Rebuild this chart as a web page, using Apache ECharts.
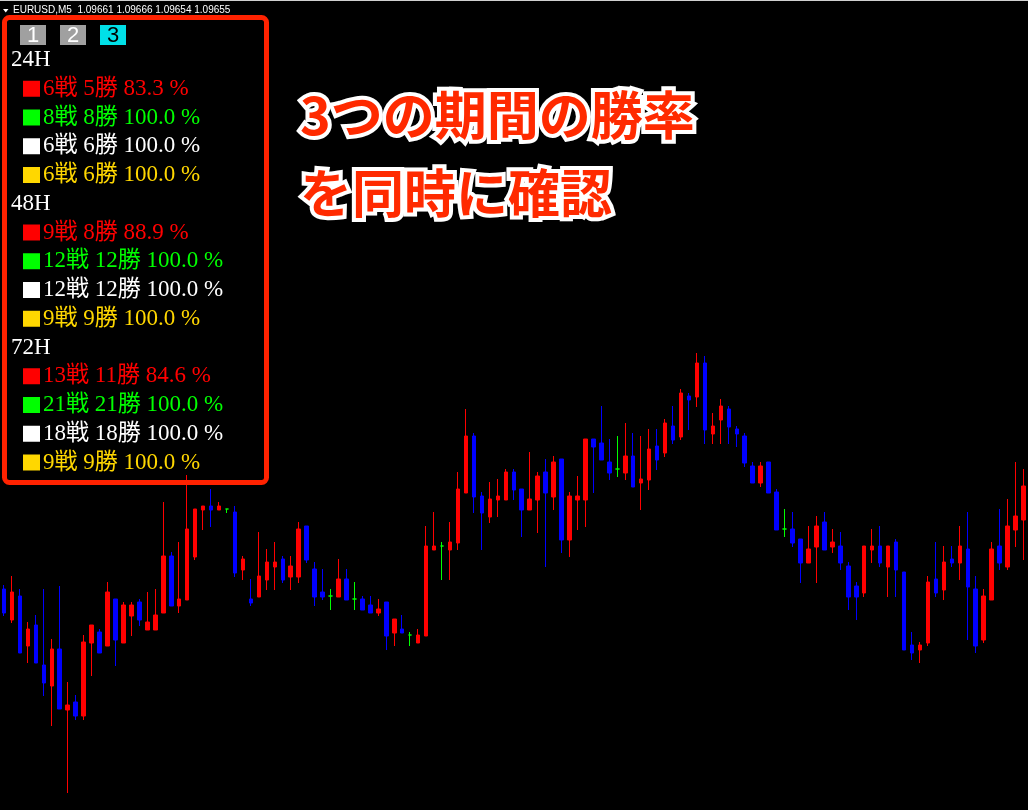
<!DOCTYPE html>
<html><head><meta charset="utf-8">
<script src="https://cdn.jsdelivr.net/npm/echarts@6/dist/echarts.min.js"></script>
<style>html,body{margin:0;padding:0;background:#000;overflow:hidden}#c{width:1028px;height:810px}</style>
</head><body><div id="c"></div>
<script>
// ---- data (EURUSD M5 candles, left to right) ----
const opens = [
1.09561,1.09530,1.09554,1.09504,1.09525,1.09485,1.09464,1.09501,1.09440,1.09448,
1.09434,1.09507,1.09518,1.09504,1.09551,1.09507,1.09534,1.09548,1.09520,1.09520,
1.09537,1.09594,1.09544,1.09550,1.09593,1.09640,1.09644,1.09640,1.09641,1.09638,
1.09580,1.09551,1.09553,1.09570,1.09583,1.09591,1.09573,1.09573,1.09624,1.09581,
1.09558,1.09554,1.09553,1.09571,1.09551,1.09551,1.09545,1.09537,1.09548,1.09517,
1.09521,1.09515,1.09507,1.09514,1.09600,1.09604,1.09600,1.09607,1.09657,1.09714,
1.09654,1.09633,1.09650,1.09650,1.09678,1.09661,1.09640,1.09650,1.09678,1.09653,
1.09691,1.09610,1.09650,1.09650,1.09711,1.09707,1.09688,1.09681,1.09677,1.09694,
1.09667,1.09670,1.09704,1.09697,1.09724,1.09713,1.09754,1.09753,1.09787,1.09716,
1.09730,1.09741,1.09721,1.09714,1.09684,1.09667,1.09688,1.09658,1.09621,1.09621,
1.09611,1.09587,1.09603,1.09628,1.09603,1.09604,1.09584,1.09564,1.09557,1.09600,
1.09604,1.09583,1.09608,1.09578,1.09505,1.09500,1.09507,1.09571,1.09560,1.09591,
1.09587,1.09601,1.09561,1.09510,1.09550,1.09604,1.09583,1.09620,1.09630];
const closes = [
1.09537,1.09558,1.09497,1.09521,1.09487,1.09467,1.09501,1.09441,1.09445,1.09434,
1.09508,1.09525,1.09497,1.09558,1.09510,1.09545,1.09545,1.09530,1.09528,1.09535,
1.09594,1.09544,1.09551,1.09621,1.09641,1.09644,1.09640,1.09644,1.09641,1.09577,
1.09591,1.09547,1.09574,1.09588,1.09588,1.09570,1.09584,1.09621,1.09590,1.09553,
1.09553,1.09554,1.09571,1.09550,1.09551,1.09540,1.09537,1.09541,1.09514,1.09531,
1.09517,1.09515,1.09515,1.09604,1.09604,1.09604,1.09608,1.09661,1.09714,1.09653,
1.09637,1.09651,1.09654,1.09678,1.09660,1.09640,1.09651,1.09674,1.09657,1.09688,
1.09610,1.09654,1.09654,1.09711,1.09703,1.09690,1.09677,1.09681,1.09694,1.09663,
1.09671,1.09701,1.09690,1.09727,1.09710,1.09757,1.09750,1.09787,1.09720,1.09724,
1.09744,1.09723,1.09716,1.09687,1.09667,1.09684,1.09657,1.09620,1.09621,1.09607,
1.09587,1.09601,1.09624,1.09600,1.09608,1.09587,1.09553,1.09553,1.09604,1.09604,
1.09587,1.09604,1.09580,1.09500,1.09497,1.09505,1.09568,1.09557,1.09588,1.09587,
1.09604,1.09563,1.09504,1.09554,1.09601,1.09587,1.09624,1.09634,1.09664];
const lows = [
1.09534,1.09527,1.09497,1.09487,1.09487,1.09454,1.09424,1.09441,1.09357,1.09430,
1.09430,1.09474,1.09497,1.09504,1.09484,1.09507,1.09514,1.09524,1.09520,1.09520,
1.09537,1.09544,1.09537,1.09550,1.09590,1.09620,1.09623,1.09640,1.09637,1.09573,
1.09570,1.09544,1.09553,1.09560,1.09560,1.09567,1.09560,1.09567,1.09587,1.09544,
1.09550,1.09540,1.09553,1.09550,1.09540,1.09540,1.09537,1.09534,1.09500,1.09504,
1.09517,1.09504,1.09507,1.09514,1.09600,1.09570,1.09570,1.09600,1.09657,1.09637,
1.09600,1.09627,1.09633,1.09650,1.09650,1.09613,1.09640,1.09617,1.09583,1.09640,
1.09597,1.09593,1.09620,1.09623,1.09657,1.09690,1.09670,1.09673,1.09670,1.09663,
1.09640,1.09660,1.09680,1.09693,1.09706,1.09710,1.09720,1.09743,1.09706,1.09706,
1.09706,1.09706,1.09703,1.09683,1.09667,1.09663,1.09657,1.09620,1.09613,1.09603,
1.09567,1.09587,1.09567,1.09600,1.09597,1.09580,1.09540,1.09530,1.09553,1.09587,
1.09583,1.09553,1.09553,1.09500,1.09490,1.09487,1.09504,1.09553,1.09550,1.09583,
1.09570,1.09510,1.09497,1.09507,1.09550,1.09580,1.09580,1.09603,1.09590];
const highs = [
1.09565,1.09574,1.09561,1.09528,1.09535,1.09561,1.09511,1.09564,1.09468,1.09455,
1.09515,1.09525,1.09521,1.09568,1.09551,1.09548,1.09548,1.09551,1.09558,1.09561,
1.09648,1.09598,1.09608,1.09675,1.09641,1.09644,1.09661,1.09648,1.09641,1.09644,
1.09594,1.09571,1.09618,1.09601,1.09608,1.09594,1.09594,1.09628,1.09624,1.09588,
1.09581,1.09561,1.09591,1.09581,1.09568,1.09554,1.09554,1.09551,1.09548,1.09531,
1.09535,1.09518,1.09521,1.09624,1.09638,1.09608,1.09628,1.09678,1.09741,1.09717,
1.09658,1.09668,1.09671,1.09681,1.09681,1.09661,1.09698,1.09678,1.09691,1.09694,
1.09691,1.09658,1.09674,1.09711,1.09711,1.09744,1.09711,1.09714,1.09727,1.09717,
1.09714,1.09721,1.09721,1.09731,1.09744,1.09761,1.09757,1.09797,1.09794,1.09737,
1.09751,1.09744,1.09724,1.09717,1.09688,1.09688,1.09688,1.09661,1.09641,1.09638,
1.09611,1.09624,1.09634,1.09638,1.09621,1.09618,1.09588,1.09568,1.09604,1.09621,
1.09624,1.09604,1.09611,1.09578,1.09518,1.09508,1.09574,1.09608,1.09604,1.09604,
1.09624,1.09638,1.09574,1.09561,1.09608,1.09641,1.09651,1.09688,1.09681];

const symbolName = 'EURUSD,M5';
const quote = ['1.09661','1.09666','1.09654','1.09655'];
const buttons = ['1','2','3'];
const periods = ['24H','48H','72H'];
const rowColors = ['#ff0000','#00ff00','#ffffff','#ffd700'];
const trades = [[6,8,6,6],[9,12,12,9],[13,21,18,9]];
const wins   = [[5,8,6,6],[8,12,12,9],[11,21,18,9]];
const rates  = [['83.3','100.0','100.0','100.0'],['88.9','100.0','100.0','100.0'],['84.6','100.0','100.0','100.0']];
const headline = ['3つの期間の勝率','を同時に確認'];

// ---- build ----
const UP = '#ff0000', DOWN = '#0000ff', DOJI = '#00ff00';
const cats = opens.map((_, i) => i);
const candleData = opens.map((o, i) => {
  const item = { value: [o, closes[i], lows[i], highs[i]] };
  if (o === closes[i]) item.itemStyle = { color: DOJI, color0: DOJI, borderColor: DOJI, borderColor0: DOJI };
  return item;
});

const serifFam = '"Liberation Serif","Noto Sans CJK JP",serif';
const g = [];
// top border line and header
g.push({ type: 'rect', shape: { x: 0, y: 0, width: 1028, height: 1 }, style: { fill: '#d0d0d0' } });
g.push({ type: 'polygon', shape: { points: [[3, 9], [8.5, 9], [5.75, 12.5]] }, style: { fill: '#ffffff' } });
g.push({ type: 'text', x: 13, y: 10.5, style: { text: symbolName + '  ' + quote.join(' '), fill: '#ffffff',
  fontSize: 10, fontFamily: '"Liberation Sans", Arial, sans-serif', verticalAlign: 'middle', align: 'left' } });
// panel frame
g.push({ type: 'rect', shape: { x: 4.5, y: 17.5, width: 262, height: 465, r: 5 },
  style: { fill: 'none', stroke: '#ff2200', lineWidth: 5 } });
// buttons
buttons.forEach((b, i) => {
  const x = 20 + 40 * i, active = i === 2;
  g.push({ type: 'rect', shape: { x: x, y: 25, width: 26, height: 20 }, style: { fill: active ? '#00e0e8' : '#a0a0a0' } });
  g.push({ type: 'text', x: x + 13, y: 35.5, style: { text: b, fill: active ? '#000000' : '#ffffff',
    fontSize: 22, fontFamily: '"Liberation Sans", Arial, sans-serif', align: 'center', verticalAlign: 'middle' } });
});
// stats rows
let row = 0;
periods.forEach((p, pi) => {
  const y0 = 60 + 28.75 * row;
  g.push({ type: 'text', x: 11, y: y0, style: { text: p, fill: '#ffffff', fontSize: 23, fontFamily: serifFam, verticalAlign: 'middle' } });
  row++;
  rowColors.forEach((c, ci) => {
    const y = 60 + 28.75 * row;
    g.push({ type: 'rect', shape: { x: 23, y: y - 8, width: 17, height: 16 }, style: { fill: c } });
    g.push({ type: 'text', x: 43, y: y, style: {
      text: trades[pi][ci] + '戦 ' + wins[pi][ci] + '勝 ' + rates[pi][ci] + ' %',
      fill: c, fontSize: 23, fontFamily: serifFam, verticalAlign: 'middle' } });
    row++;
  });
});
// headline
headline.forEach((t, i) => {
  g.push({ type: 'text', x: 300, y: [115, 193][i], style: {
    text: t, fill: '#ff2a00', fontSize: 52, fontWeight: 'bold', fontStyle: 'normal',
    fontFamily: '"Noto Sans CJK JP", sans-serif',
    stroke: '#ffffff', lineWidth: 8, lineJoin: 'round', verticalAlign: 'middle', align: 'left',
    shadowColor: 'rgba(150,150,150,0.9)', shadowBlur: 3 } });
});

const chart = echarts.init(document.getElementById('c'), null, { renderer: 'canvas' });
chart.setOption({
  backgroundColor: '#000000',
  animation: false,
  grid: { left: -4.5, right: 0.5, top: 0, bottom: 0, containLabel: false },
  xAxis: { type: 'category', data: cats, boundaryGap: true, show: false },
  yAxis: { type: 'value', min: 1.09340, max: 1.10150, show: false, splitLine: { show: false } },
  series: [{
    type: 'candlestick', data: candleData, barWidth: 4,
    itemStyle: { color: UP, color0: DOWN, borderColor: UP, borderColor0: DOWN, borderWidth: 1 }
  }],
  graphic: { elements: g.map(e => Object.assign({ z: 100 }, e)) }
});
</script></body></html>
